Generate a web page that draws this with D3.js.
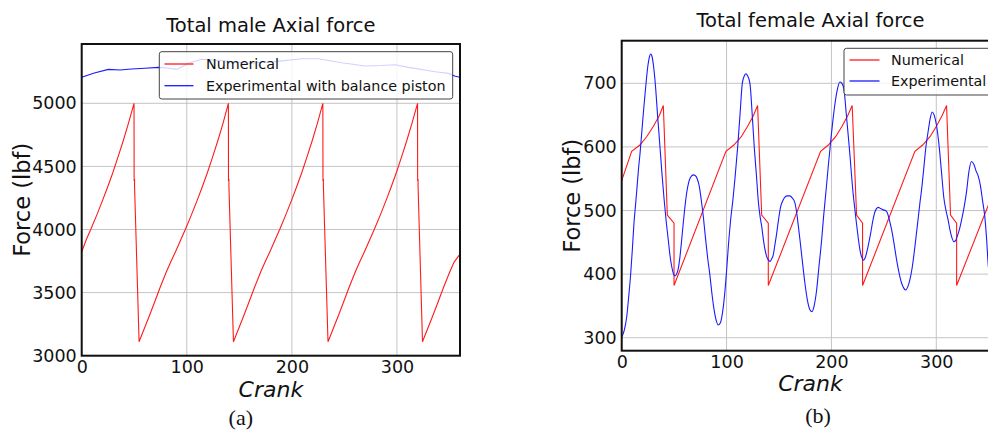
<!DOCTYPE html>
<html>
<head>
<meta charset="utf-8">
<script src="https://cdn.jsdelivr.net/npm/d3@7"></script>
<style>
  body { margin: 0; background: #fff; }
  svg { display: block; font-family: 'DejaVu Sans', sans-serif; }
</style>
</head>
<body>
<script>
/*
DATA
*/

const crankTicks = [0, 100, 200, 300]
const maleForceTicks = [3000, 3500, 4000, 4500, 5000]
const femaleForceTicks = [300, 400, 500, 600, 700]
const seriesNames = ['Numerical', 'Experimental with balance piston', 'Experimental']

// [crank, force]
const maleNumerical = [
  [0, 3824], [4.6, 3925], [8.6, 4000], [14.6, 4120], [19.6, 4225], [24.6, 4335], [29.6, 4450], [34.6, 4575],
  [39.6, 4705], [44.6, 4845], [49.8, 5000], [49.9, 4385], [50.3, 4400], [50.3, 4345], [54.6, 3110],
  [59.6, 3215], [64.6, 3320], [69.6, 3430], [74.6, 3540], [80.6, 3665], [84.6, 3740], [89.6, 3830], [94.6, 3925],
  [98.6, 4000], [104.6, 4120], [109.6, 4225], [114.6, 4335], [119.6, 4450], [124.6, 4575], [129.6, 4705],
  [134.6, 4845], [139.6, 5000], [139.7, 4385], [140.1, 4400], [140.1, 4345], [144.4, 3110],
  [149.4, 3215], [154.4, 3320], [159.4, 3430], [164.4, 3540], [170.4, 3665], [174.4, 3740], [179.4, 3830], [184.4, 3925],
  [188.4, 4000], [194.4, 4120], [199.4, 4225], [204.4, 4335], [209.4, 4450], [214.4, 4575], [219.4, 4705],
  [224.4, 4845], [229.5, 5000], [229.6, 4385], [230.0, 4400], [230.0, 4345], [234.4, 3110],
  [239.4, 3215], [244.4, 3320], [249.4, 3430], [254.4, 3540], [260.4, 3665], [264.4, 3740], [269.4, 3830], [274.4, 3925],
  [278.4, 4000], [284.4, 4120], [289.4, 4225], [294.4, 4335], [299.4, 4450], [304.4, 4575], [309.4, 4705],
  [314.4, 4845], [319.6, 5000], [319.7, 4385], [320.1, 4400], [320.1, 4345], [324.3, 3110],
  [329.3, 3215], [334.3, 3320], [339.3, 3430], [344.3, 3540], [350.3, 3665], [354.3, 3740], [360, 3806]
]

const maleExperimental = [
  [0, 5206], [12, 5240], [25.4, 5269], [36.5, 5264], [47.6, 5272], [60, 5278], [73, 5285], [82, 5280],
  [90.5, 5269], [101.6, 5317], [114.3, 5349], [133.3, 5338], [158.7, 5317], [184, 5330], [209.5, 5353],
  [225.3, 5353], [247.6, 5322], [269.8, 5296], [285, 5300], [298.4, 5306], [311, 5285], [336.5, 5250],
  [349, 5237], [355.5, 5215], [360, 5206]
]

const femaleNumerical = [
  [0, 547], [9.5, 593], [17.4, 603], [23.8, 616], [30.1, 632], [35.8, 649], [39.7, 665], [43.5, 493], [49.9, 480], [49.9, 382],
  [99.4, 593], [107, 603], [114, 616], [120, 632], [125.5, 649], [129.6, 665], [133.5, 493], [139.8, 480], [139.8, 382],
  [189.7, 593], [197, 603], [204, 616], [210, 632], [215.5, 649], [219.8, 665], [224, 493], [229.7, 480], [229.7, 382],
  [279.6, 593], [287, 603], [294, 616], [300, 632], [305.5, 649], [309.8, 665], [313.6, 493], [319.4, 480], [319.4, 382],
  [360, 552]
]

const femaleExperimental = [
  [0, 301], [2.5, 312], [4.8, 333], [6.7, 365], [8.6, 401], [10.2, 440], [11.7, 480], [13, 505], [14.3, 530], [16, 565],
  [17.5, 590], [19, 620], [21, 660], [23.2, 700], [25, 728], [26.5, 742], [27.6, 746], [28.8, 743], [30.3, 728], [32, 700],
  [34.2, 650], [36.5, 600], [38.3, 560], [40.3, 520], [42.3, 485], [44.4, 454], [46, 430], [47.7, 412], [49.3, 401], [50.8, 397],
  [52.3, 400], [54, 409], [55.6, 428], [57.2, 454], [58.8, 482], [60.3, 506], [62, 528], [64, 545], [66, 553], [68.3, 556],
  [70, 555], [72, 550], [74, 538], [76, 515], [78, 488], [80, 455], [82, 425], [84, 400], [86, 370], [88, 345],
  [90, 328], [92, 320], [94, 323], [96, 338], [98, 365], [100, 405], [102, 450], [104, 487], [106, 516], [108, 550],
  [110.6, 600], [113, 655], [115, 700], [117, 712], [118.5, 715], [120, 712], [122.3, 700], [124.5, 650], [126.4, 600], [128.5, 555],
  [130.2, 516], [132, 490], [133.5, 475], [135.5, 450], [138.2, 428], [140, 422], [141.4, 420], [143, 424], [144.5, 430], [146, 445],
  [147.8, 464], [149.5, 485], [151.6, 506], [153.5, 515], [155.7, 521], [158, 523], [160.4, 523], [162.5, 520], [165.2, 512], [167, 495],
  [168.5, 475], [170, 454], [172.3, 420], [174.7, 386], [177, 360], [179.5, 344], [181.5, 341], [183.5, 350], [185.9, 375], [188, 410],
  [190.7, 454], [192.5, 490], [194.8, 530], [197, 570], [199.5, 612], [202, 650], [204, 675], [206, 693], [208.1, 702], [210, 700],
  [212, 690], [214, 655], [217, 600], [220.8, 525], [222.5, 500], [224, 478], [225.5, 458], [227.2, 438], [228.8, 427], [230.3, 422],
  [232, 425], [233.5, 433], [235.5, 448], [237.4, 464], [239.5, 484], [241.5, 498], [243, 503], [244.6, 505], [247, 503], [249.4, 501],
  [251.5, 500], [253.2, 497], [255.3, 485], [257.4, 470], [260, 445], [262.2, 422], [264.5, 402], [266.9, 386], [269, 378], [270.7, 375],
  [272.8, 380], [274.8, 391], [277, 410], [279.6, 443], [282, 477], [284.4, 512], [286, 533], [288, 565], [290.1, 600], [292.3, 625],
  [294, 643], [296.1, 655], [298, 650], [300, 636], [302.8, 600], [305, 560], [307.2, 520], [309.3, 500], [311.3, 485], [313, 470],
  [314.6, 459], [316.8, 451], [318.5, 453], [319.9, 459], [322, 470], [324.1, 485], [326.5, 505], [328.9, 530], [331, 560], [333.7, 577],
  [336, 572], [338, 562], [340, 554], [342, 540], [344.1, 516], [346.3, 490], [348, 455], [349.2, 422], [352, 375], [355, 335],
  [358, 310], [360, 300]
]

/*
LAYOUT
*/

const panels = [
  {
    id: 'male', title: 'Total male Axial force', caption: '(a)',
    left: 81.7, right: 460, top: 44, bottom: 355.7,
    yDomain: [3000, 5470], yTicks: maleForceTicks,
    numerical: maleNumerical, experimental: maleExperimental, expName: seriesNames[1],
    titleY: 31.5, yLabelX: 30, xLabelY: 396.5, captionX: 240.8, captionY: 425,
    legend: { x: 159.3, y: 51.7, w: 293.4, h: 47.3, rows: [64, 85.7], x1: 164.5, x2: 193.5, tx: 206 }
  },
  {
    id: 'female', title: 'Total female Axial force', caption: '(b)',
    left: 621.7, right: 999.2, top: 40.7, bottom: 350.7,
    yDomain: [279.6, 767], yTicks: femaleForceTicks,
    numerical: femaleNumerical, experimental: femaleExperimental, expName: seriesNames[2],
    titleY: 26.7, yLabelX: 580, xLabelY: 391, captionX: 818, captionY: 423,
    legend: { x: 844, y: 48.3, w: 149, h: 46.7, rows: [60, 81], x1: 849.5, x2: 879.5, tx: 891 }
  }
]

const svg = d3.select('body')
  .append('svg')
  .attr('width', 988)
  .attr('height', 430)
  .style('overflow', 'hidden')

panels.forEach(drawPanel)

function drawPanel(p) {
  // BUILD SCALES
  const x = d3.scaleLinear().domain([0, 360]).range([p.left, p.right])
  const y = d3.scaleLinear().domain(p.yDomain).range([p.bottom, p.top])

  const g = svg.append('g')

  g.append('clipPath')
    .attr('id', 'clip-' + p.id)
    .append('rect')
    .attr('x', p.left)
    .attr('y', p.top)
    .attr('width', p.right - p.left)
    .attr('height', p.bottom - p.top)

  // GRID
  g.append('g').selectAll('line')
    .data(crankTicks)
    .join('line')
    .attr('x1', d => x(d)).attr('x2', d => x(d))
    .attr('y1', p.top).attr('y2', p.bottom)
    .attr('stroke', '#c4c4c4')
    .attr('stroke-width', 1)

  g.append('g').selectAll('line')
    .data(p.yTicks)
    .join('line')
    .attr('x1', p.left).attr('x2', p.right)
    .attr('y1', d => y(d)).attr('y2', d => y(d))
    .attr('stroke', '#c4c4c4')
    .attr('stroke-width', 1)

  // LINES
  const straight = d3.line().x(d => x(d[0])).y(d => y(d[1]))
  const smooth = d3.line().x(d => x(d[0])).y(d => y(d[1])).curve(d3.curveMonotoneX)

  const plot = g.append('g').attr('clip-path', `url(#clip-${p.id})`)

  plot.append('path')
    .datum(p.numerical)
    .attr('d', straight)
    .attr('fill', 'none')
    .attr('stroke', '#ff1a1a')
    .attr('stroke-width', 1.1)

  plot.append('path')
    .datum(p.experimental)
    .attr('d', p.id == 'male' ? straight : smooth)
    .attr('fill', 'none')
    .attr('stroke', '#1a1aff')
    .attr('stroke-width', 1.1)

  // SPINES
  g.append('rect')
    .attr('x', p.left)
    .attr('y', p.top)
    .attr('width', p.right - p.left)
    .attr('height', p.bottom - p.top)
    .attr('fill', 'none')
    .attr('stroke', '#111')
    .attr('stroke-width', 2)

  // AXES
  g.append('g')
    .attr('transform', `translate(0,${p.bottom})`)
    .call(d3.axisBottom(x).tickValues(crankTicks).tickFormat(d3.format('d')).tickSize(0).tickPadding(4.5))
    .call(a => a.select('.domain').remove())
    .selectAll('text')
    .attr('font-size', 17.5)
    .attr('font-family', 'DejaVu Sans')
    .attr('fill', '#111')

  g.append('g')
    .attr('transform', `translate(${p.left},0)`)
    .call(d3.axisLeft(y).tickValues(p.yTicks).tickFormat(d3.format('d')).tickSize(0).tickPadding(5))
    .call(a => a.select('.domain').remove())
    .selectAll('text')
    .attr('font-size', 17.5)
    .attr('font-family', 'DejaVu Sans')
    .attr('fill', '#111')

  // TITLES
  const cx = (p.left + p.right) / 2
  const cy = (p.top + p.bottom) / 2

  g.append('text')
    .attr('x', cx)
    .attr('y', p.titleY)
    .attr('text-anchor', 'middle')
    .attr('font-size', 19.5)
    .attr('fill', '#111')
    .text(p.title)

  g.append('text')
    .attr('transform', `translate(${p.yLabelX},${cy}) rotate(-90)`)
    .attr('text-anchor', 'middle')
    .attr('font-size', 22.5)
    .attr('fill', '#111')
    .text('Force (lbf)')

  g.append('text')
    .attr('x', cx)
    .attr('y', p.xLabelY)
    .attr('text-anchor', 'middle')
    .attr('font-size', 22)
    .attr('font-style', 'italic')
    .attr('fill', '#111')
    .text('Crank')

  g.append('text')
    .attr('x', p.captionX)
    .attr('y', p.captionY)
    .attr('text-anchor', 'middle')
    .attr('font-size', 22)
    .attr('font-family', "'Liberation Serif', serif")
    .attr('fill', '#111')
    .text(p.caption)

  // LEGEND
  const lg = p.legend
  const legend = g.append('g')

  legend.append('rect')
    .attr('x', lg.x)
    .attr('y', lg.y)
    .attr('width', lg.w)
    .attr('height', lg.h)
    .attr('rx', 2.5)
    .attr('fill', '#fff')
    .attr('fill-opacity', 0.8)
    .attr('stroke', '#444')
    .attr('stroke-width', 1)

  const items = [
    { name: seriesNames[0], color: '#ff1a1a' },
    { name: p.expName, color: '#1a1aff' }
  ]

  const rows = legend.selectAll('g.item')
    .data(items)
    .join('g')
    .attr('class', 'item')
    .attr('transform', (d, i) => `translate(0,${lg.rows[i]})`)

  rows.append('line')
    .attr('x1', lg.x1)
    .attr('x2', lg.x2)
    .attr('stroke', d => d.color)
    .attr('stroke-width', 1.3)

  rows.append('text')
    .attr('x', lg.tx)
    .attr('dy', '0.36em')
    .attr('font-size', 14.3)
    .attr('fill', '#111')
    .text(d => d.name)
}
</script>
</body>
</html>
